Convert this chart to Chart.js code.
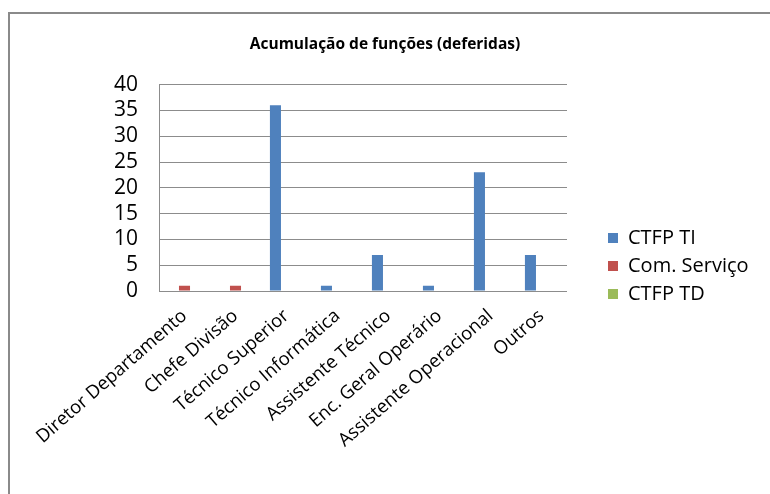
<!DOCTYPE html>
<html>
<head>
<meta charset="utf-8">
<script src="https://cdn.jsdelivr.net/npm/chart.js@4"></script>
<style>
  html, body { margin: 0; padding: 0; background: #fff; }
  canvas { display: block; }
</style>
</head>
<body>
<canvas id="chart" width="770" height="494"></canvas>
<script>
// ---- data ----
const categories = [
  'Diretor Departamento', 'Chefe Divisão', 'Técnico Superior', 'Técnico Informática',
  'Assistente Técnico', 'Enc. Geral Operário', 'Assistente Operacional', 'Outros'
];
const ctfpTi = [0, 0, 36, 1, 7, 1, 23, 7];
const comServico = [1, 1, 0, 0, 0, 0, 0, 0];
const ctfpTd = [0, 0, 0, 0, 0, 0, 0, 0];
const yTicks = [0, 5, 10, 15, 20, 25, 30, 35, 40];

const FONT = '"Open Sans", sans-serif';
const GRID = '#8c8c8c';

// outer frame like the spreadsheet chart border
const framePlugin = {
  id: 'frame',
  beforeDraw(chart) {
    const ctx = chart.ctx;
    ctx.save();
    ctx.fillStyle = '#fff';
    ctx.fillRect(0, 0, chart.width, chart.height);
    ctx.strokeStyle = '#8a8a8a';
    ctx.lineWidth = 2;
    ctx.beginPath();
    ctx.moveTo(9, chart.height);
    ctx.lineTo(9, 13);
    ctx.lineTo(chart.width, 13);
    ctx.stroke();
    ctx.restore();
  }
};

// legend sits in a fixed box to the right of the plot
const legendPlace = {
  id: 'legendPlace',
  afterLayout(chart) {
    const lg = chart.legend;
    const h = lg.bottom - lg.top;
    lg.left = 600;
    lg.right = 770;
    lg.top = 220;
    lg.bottom = 220 + h;
  }
};

new Chart(document.getElementById('chart'), {
  type: 'bar',
  data: {
    labels: categories,
    datasets: [
      { label: 'CTFP TI', data: ctfpTi, backgroundColor: '#4F81BD' },
      { label: 'Com. Serviço', data: comServico, backgroundColor: '#C0504D' },
      { label: 'CTFP TD', data: ctfpTd, backgroundColor: '#9BBB59' },
    ],
  },
  options: {
    responsive: false,
    animation: false,
    datasets: { bar: { barPercentage: 1, categoryPercentage: 0.65, borderWidth: 0 } },
    layout: { padding: 0 },
    plugins: {
      title: {
        display: true,
        text: 'Acumulação de funções (deferidas)',
        color: '#000',
        font: { family: FONT, size: 15.5, weight: 'bold' },
        padding: { top: 35, bottom: 31 },
      },
      legend: {
        position: 'right',
        align: 'start',
        labels: {
          color: '#000',
          font: { family: FONT, size: 20 },
          boxWidth: 10,
          boxHeight: 10,
          padding: 8,
        },
      },
      tooltip: { enabled: false },
    },
    scales: {
      x: {
        grid: { display: false },
        border: { display: false },
        ticks: {
          color: '#000',
          font: { family: FONT, size: 18.5 },
          minRotation: 41,
          maxRotation: 41,
          autoSkip: false,
          padding: 6,
        },
        afterFit(scale) { scale.height = 203; },
      },
      y: {
        min: 0,
        max: 40,
        afterBuildTicks(scale) { scale.ticks = yTicks.map(v => ({ value: v })); },
        grid: { color: GRID, drawTicks: false },
        border: { display: true, color: GRID },
        ticks: { color: '#000', font: { family: FONT, size: 21 }, padding: 21, autoSkip: false },
        afterFit(scale) { scale.width = 159; },
      },
      gap: {
        position: 'right',
        display: true,
        grid: { display: false },
        border: { display: false },
        ticks: { display: false },
        afterFit(scale) { scale.width = 203 - scale.chart.legend.width; },
      },
    },
  },
  plugins: [framePlugin, legendPlace],
});
</script>
</body>
</html>
